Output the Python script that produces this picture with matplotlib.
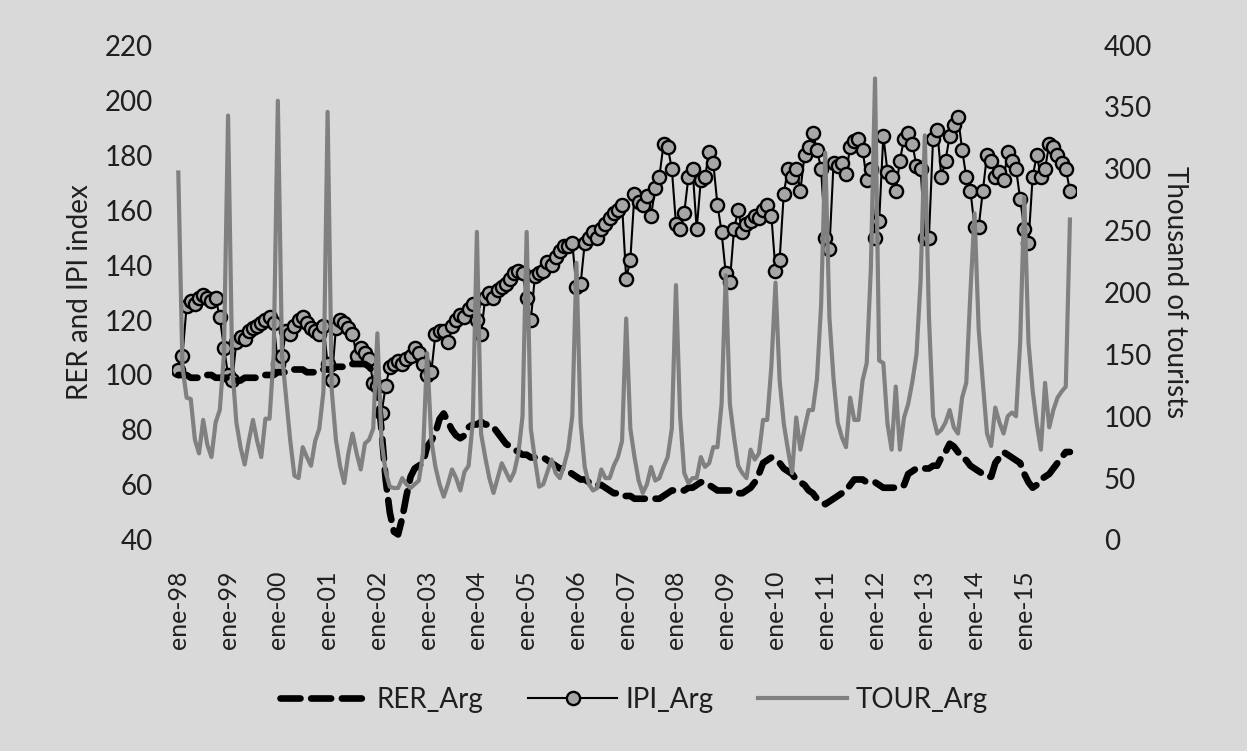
import numpy as np
import matplotlib.pyplot as plt

plt.rcParams['font.family'] = ['Lato', 'DejaVu Sans']

# monthly series, ene-98 .. dic-15 (one row per year)
rer_arg = [
    100, 100, 100, 99, 99, 99, 100, 100, 100, 99, 99, 99,
    99, 98, 98, 98, 99, 99, 99, 99, 100, 100, 100, 100,
    101, 101, 101, 102, 102, 102, 102, 101, 101, 101, 101, 102,
    102, 102, 103, 103, 103, 104, 104, 104, 104, 104, 103, 101,
    95, 80, 62, 50, 43, 42, 48, 56, 63, 66, 67, 68,
    74, 76, 79, 84, 86, 83, 80, 78, 77, 78, 81, 82,
    82, 83, 82, 82, 81, 79, 77, 75, 74, 73, 72, 71,
    71, 70, 70, 70, 70, 69, 68, 67, 66, 66, 65, 64,
    63, 62, 62, 61, 61, 60, 60, 59, 58, 57, 57, 56,
    56, 56, 55, 55, 55, 55, 55, 55, 55, 56, 57, 58,
    58, 58, 58, 59, 59, 60, 61, 61, 60, 59, 58, 58,
    58, 58, 58, 57, 57, 58, 59, 61, 64, 68, 69, 70,
    69, 68, 66, 65, 64, 62, 61, 60, 58, 57, 55, 54,
    53, 54, 55, 56, 57, 58, 60, 62, 62, 62, 61, 61,
    61, 60, 59, 59, 59, 59, 59, 60, 64, 65, 66, 66,
    66, 66, 67, 67, 70, 72, 75, 74, 72, 70, 69, 67,
    66, 65, 64, 63, 63, 68, 70, 72, 71, 70, 69, 68,
    64, 61, 59, 60, 62, 63, 64, 66, 68, 70, 72, 72,
]

ipi_arg = [
    102, 107, 125, 127, 126, 128, 129, 128, 127, 128, 121, 110,
    100, 98, 112, 114, 113, 116, 117, 118, 119, 120, 121, 119,
    104, 107, 116, 115, 118, 120, 121, 119, 117, 116, 115, 118,
    104, 98, 117, 120, 119, 117, 115, 107, 110, 108, 106, 97,
    96, 86, 96, 103, 104, 105, 104, 106, 107, 110, 108, 104,
    100, 101, 115, 116, 116, 112, 118, 120, 122, 121, 124, 126,
    120, 115, 128, 130, 128, 131, 132, 133, 135, 137, 138, 137,
    128, 120, 136, 137, 138, 141, 140, 143, 145, 147, 147, 148,
    132, 133, 148, 150, 152, 150, 153, 155, 157, 159, 160, 162,
    135, 142, 166, 163, 162, 165, 158, 168, 172, 184, 183, 175,
    155, 153, 159, 172, 175, 153, 171, 172, 181, 177, 162, 152,
    137, 134, 153, 160, 152, 155, 156, 158, 157, 160, 162, 158,
    138, 142, 166, 175, 172, 175, 167, 180, 183, 188, 182, 175,
    150, 146, 177, 176, 177, 173, 183, 185, 186, 182, 171, 175,
    150, 156, 187, 174, 172, 167, 178, 186, 188, 184, 176, 175,
    150, 150, 186, 189, 172, 178, 187, 191, 194, 182, 172, 167,
    154, 154, 167, 180, 178, 172, 174, 171, 181, 178, 175, 164,
    153, 148, 172, 180, 172, 175, 184, 183, 180, 177, 175, 167,
]

tour_arg = [
    297, 140, 115, 114, 81, 70, 97, 77, 67, 95, 105, 150,
    343, 140, 95, 75, 61, 80, 97, 80, 67, 98, 98, 150,
    355, 150, 115, 80, 52, 50, 75, 67, 60, 80, 90, 120,
    346, 121, 81, 60, 46, 70, 86, 70, 57, 78, 81, 90,
    167, 80, 55, 43, 42, 42, 50, 45, 42, 45, 48, 70,
    151, 81, 59, 45, 35, 45, 57, 50, 40, 55, 60, 95,
    249, 86, 67, 50, 38, 50, 62, 55, 48, 55, 70, 100,
    249, 90, 65, 43, 45, 55, 65, 54, 50, 60, 73, 100,
    224, 95, 59, 45, 40, 42, 57, 50, 50, 60, 67, 80,
    179, 90, 67, 48, 38, 45, 59, 48, 50, 59, 67, 90,
    206, 100, 54, 46, 50, 50, 67, 59, 62, 75, 75, 110,
    214, 110, 83, 60, 54, 50, 73, 65, 70, 97, 97, 140,
    208, 129, 94, 73, 54, 99, 73, 90, 105, 105, 130, 190,
    313, 180, 130, 95, 83, 75, 115, 97, 97, 129, 143, 220,
    373, 145, 143, 94, 73, 124, 73, 99, 110, 128, 150, 210,
    327, 180, 100, 86, 89, 95, 105, 91, 86, 115, 127, 200,
    264, 170, 127, 86, 76, 107, 95, 86, 100, 103, 100, 160,
    277, 160, 121, 94, 73, 127, 91, 105, 115, 120, 124, 259,
]

years = list(range(1998, 2016))
tick_labels = ['ene-%02d' % (y % 100) for y in years]

bg = '#d9d9d9'
txt = '#1f1f1f'
months = np.arange(len(rer_arg))

fig = plt.figure(figsize=(12.47, 7.51), dpi=100, facecolor=bg)
ax = fig.add_axes([0.138, 0.281, 0.725, 0.659])
ax.set_facecolor(bg)

l1, = ax.plot(months, rer_arg, color='black', lw=4.8, linestyle=(0, (3.0, 1.6)),
              dash_capstyle='round', label='RER_Arg', zorder=3)
l2, = ax.plot(months, ipi_arg, color='black', lw=1.5, marker='o', markersize=9.5,
              markerfacecolor='#a6a6a6', markeredgecolor='black', markeredgewidth=1.7,
              label='IPI_Arg', zorder=2)

ax.set_ylim(40, 220)
ax.set_yticks(np.arange(40, 221, 20))
ax.set_xlim(-1.5, 216.5)
ax.set_xticks(np.arange(0, 216, 12))
ax.set_xticklabels(tick_labels, rotation=90)
ax.tick_params(axis='both', length=0, colors=txt)
ax.tick_params(axis='y', pad=14, labelsize=20)
ax.tick_params(axis='x', pad=22, labelsize=18)
ax.set_ylabel('RER and IPI index', fontsize=20, color=txt, labelpad=8)
for s in ax.spines.values():
    s.set_visible(False)

ax2 = ax.twinx()
l3, = ax2.plot(months, tour_arg, color='#808080', lw=3, label='TOUR_Arg', zorder=4)
ax2.set_ylim(0, 400)
ax2.set_yticks(np.arange(0, 401, 50))
ax2.tick_params(axis='y', length=0, labelsize=20, colors=txt, pad=20)
ax2.set_ylabel('Thousand of tourists', fontsize=20, color=txt,
               rotation=-90, labelpad=26)
for s in ax2.spines.values():
    s.set_visible(False)

fig.legend([l1, l2, l3], ['RER_Arg', 'IPI_Arg', 'TOUR_Arg'], loc='center',
           bbox_to_anchor=(0.508, 0.068), ncol=3, frameon=False, fontsize=20,
           handlelength=3.2, handletextpad=0.3, columnspacing=1.6,
           labelcolor=txt)

fig.savefig('out.png', dpi=100, facecolor=bg)
